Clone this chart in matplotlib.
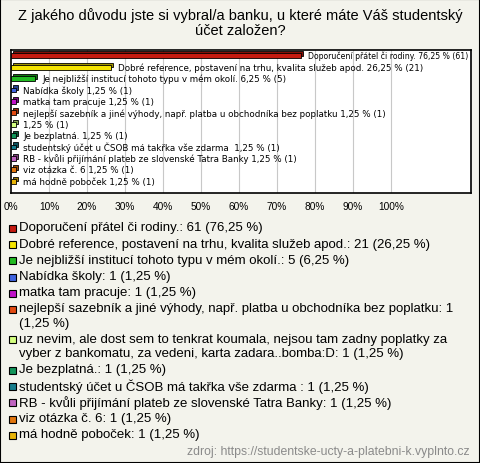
import matplotlib
matplotlib.use("Agg")
import matplotlib.pyplot as plt
from matplotlib.patches import Rectangle
import matplotlib.transforms as mtransforms

plt.rcParams['font.family'] = ['Liberation Sans', 'DejaVu Sans']

title = "Z jakého důvodu jste si vybral/a banku, u které máte Váš studentský\núčet založen?"

legend_names = [
    "Doporučení přátel či rodiny.",
    "Dobré reference, postavení na trhu, kvalita služeb apod.",
    "Je nejbližší institucí tohoto typu v mém okolí.",
    "Nabídka školy",
    "matka tam pracuje",
    "nejlepší sazebník a jiné výhody, např. platba u obchodníka bez poplatku",
    "uz nevim, ale dost sem to tenkrat koumala, nejsou tam zadny poplatky za vyber z bankomatu, za vedeni, karta zadara..bomba:D",
    "Je bezplatná.",
    "studentský účet u ČSOB má takřka vše zdarma ",
    "RB - kvůli přijímání plateb ze slovenské Tatra Banky",
    "viz otázka č. 6",
    "má hodně poboček",
]
bar_names = [
    "Doporučení přátel či rodiny.",
    "Dobré reference, postavení na trhu, kvalita služeb apod.",
    "Je nejbližší institucí tohoto typu v mém okolí.",
    "Nabídka školy",
    "matka tam pracuje",
    "nejlepší sazebník a jiné výhody, např. platba u obchodníka bez poplatku",
    "",
    "Je bezplatná.",
    "studentský účet u ČSOB má takřka vše zdarma ",
    "RB - kvůli přijímání plateb ze slovenské Tatra Banky",
    "viz otázka č. 6",
    "má hodně poboček",
]
counts = [61, 21, 5, 1, 1, 1, 1, 1, 1, 1, 1, 1]
percents = [76.25, 26.25, 6.25, 1.25, 1.25, 1.25, 1.25, 1.25, 1.25, 1.25, 1.25, 1.25]
colors = ["#C41A10", "#F5E400", "#22BB22", "#3F64E0", "#C012C8", "#E24A12",
          "#D4FF80", "#12955A", "#167D8C", "#C064C0", "#E2760E", "#E8B408"]
shade = ["#801008", "#A09400", "#137713", "#26408F", "#7A0B80", "#932F0B",
         "#89A653", "#0B5F39", "#0E515B", "#7C407C", "#934C09", "#977505"]
xticks = [0, 10, 20, 30, 40, 50, 60, 70, 80, 90, 100]
source = "zdroj: https://studentske-ucty-a-platebni-k.vyplnto.cz"

# legend label wrapping (as in the reference)
legend_wrap = {5: "nejlepší sazebník a jiné výhody, např. platba u obchodníka bez poplatku: 1\n(1,25 %)",
               6: "uz nevim, ale dost sem to tenkrat koumala, nejsou tam zadny poplatky za\nvyber z bankomatu, za vedeni, karta zadara..bomba:D: 1 (1,25 %)"}

def fmt(p):
    return ("%.2f" % p).replace(".", ",")

W, H = 480, 464
fig = plt.figure(figsize=(W / 100, H / 100), dpi=100, facecolor="#F3F3EC")
fig.patches.append(Rectangle((0, 0), 1, 1, transform=fig.transFigure, fill=False,
                             edgecolor="black", linewidth=1.5))

fig.text(0.5, 1 - 23 / H, title, ha="center", va="center", fontsize=10.5, linespacing=1.1)

ax = fig.add_axes([11 / W, 1 - 194 / H, 460 / W, 143 / H])
ax.set_facecolor("white")
ax.set_xlim(0, 460 / 380 * 100)
n = len(percents)
ax.set_ylim(n + 0.03, -0.5)
ax.set_yticks([])
ax.set_xticks(xticks)
ax.set_xticklabels(["%d%%" % t for t in xticks], fontsize=7.3)
ax.tick_params(axis="x", length=0, pad=6)
for t in xticks[1:]:
    ax.axvline(t, color="#C8C8C8", linewidth=0.8, zorder=0)
for s in ax.spines.values():
    s.set_linewidth(1.2)

ys = list(range(n))
off = mtransforms.offset_copy(ax.transData, fig=fig, x=2.2, y=2.2, units="dots")
ax.barh(ys, percents, height=0.42, color=shade, edgecolor="black", linewidth=0.6,
        transform=off, zorder=2)
ax.barh(ys, percents, height=0.42, color=colors, edgecolor="black", linewidth=0.6, zorder=3)

renderer = fig.canvas.get_renderer()
ax_right = ax.get_window_extent(renderer).x1 - 2
for y, p, c, nm in zip(ys, percents, counts, bar_names):
    lab = (nm + " " if nm else "") + "%s %% (%d)" % (fmt(p), c)
    t = ax.annotate(lab, xy=(p, y), xytext=(5.5, 0), textcoords="offset points",
                    va="center", ha="left", fontsize=6.3, family=["DejaVu Sans"], zorder=4)
    bb = t.get_window_extent(renderer)
    if bb.x1 > ax_right:
        t.set_fontsize(6.3 * (ax_right - bb.x0) / bb.width)

# legend
ytop = 228.5
line_h = 14.3
entry_h = 16.2
y = ytop
for i, (nm, c, p, col) in enumerate(zip(legend_names, counts, percents, colors)):
    lab = legend_wrap.get(i, "%s: %d (%s %%)" % (nm, c, fmt(p)))
    lines = lab.split("\n")
    fig.patches.append(Rectangle((9 / W, 1 - (y + 4.5) / H), 7 / W, 7 / H,
                                 transform=fig.transFigure, facecolor=col,
                                 edgecolor="black", linewidth=0.8))
    for k, ln in enumerate(lines):
        fig.text(19 / W, 1 - (y + k * line_h) / H, ln, ha="left", va="center",
                 fontsize=9.5)
    y += entry_h + (len(lines) - 1) * line_h

fig.text(470 / W, 1 - 452 / H, source, ha="right", va="center", fontsize=8.8, color="#8A8A8A")

fig.savefig("out.png", dpi=100, facecolor=fig.get_facecolor())
